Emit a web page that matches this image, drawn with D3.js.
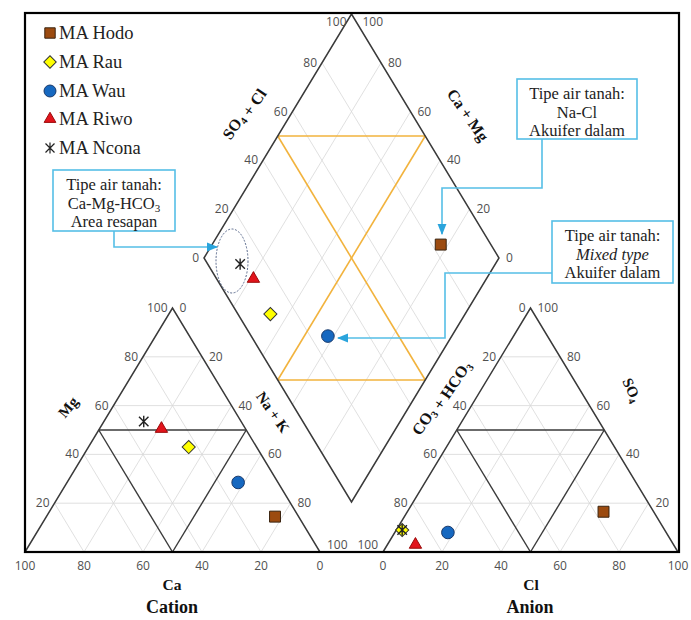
<!DOCTYPE html>
<html><head><meta charset="utf-8">
<script src="https://cdn.jsdelivr.net/npm/d3@7"></script>
<style>body{margin:0;background:#fff} svg{display:block}</style>
</head><body>
<svg id="c" width="691" height="620"></svg>
<script>
// ---- data (percent) ----
const samples = ["MA Hodo", "MA Rau", "MA Wau", "MA Riwo", "MA Ncona"];
const ca   = [8, 23, 13.5, 28.5, 33];
const mg   = [14.5, 43, 28.5, 50.5, 53.5];
const nak  = [77.5, 34, 58, 21, 13.5];
const hco3 = [17, 89, 74, 87.5, 89];
const so4  = [16.5, 9, 8, 3, 9];
const cl   = [66.5, 2, 18, 9.5, 2];
const ticks = [0, 20, 40, 60, 80, 100];
const gridLevels = [20, 40, 60, 80];

const svg = d3.select("#c");
const FONT = "'Open Sans', 'DejaVu Sans', sans-serif";
const SERIF = "'Liberation Serif', 'Times New Roman', serif";

// ---- scales ----
const catX = d3.scaleLinear().domain([0, 100]).range([25, 320]);
const anX  = d3.scaleLinear().domain([0, 100]).range([383, 678]);
const triY = d3.scaleLinear().domain([0, 100]).range([552, 308]);
const diaX = d3.scaleLinear().domain([0, 200]).range([204, 499]);
const diaY = d3.scaleLinear().domain([-100, 100]).range([14, 502]);

const catPt = (c, m, n) => [catX(n + m / 2), triY(m)];
const anPt  = (h, s, c) => [anX(c + s / 2), triY(s)];
const diaPt = (p, q) => [diaX(p + q), diaY(p - q)];

const line = d3.line();
function seg(g, a, b, stroke, w) {
  g.append("path").attr("d", line([a, b])).attr("stroke", stroke)
    .attr("stroke-width", w).attr("fill", "none");
}

const gGrid = svg.append("g");
const gMain = svg.append("g");

// ---- grids ----
const GRID = "#d8d8d8";
gridLevels.forEach(t => {
  const u = 100 - t;
  seg(gGrid, catPt(u, t, 0), catPt(0, t, u), GRID, 0.8);
  seg(gGrid, catPt(u, 0, t), catPt(0, u, t), GRID, 0.8);
  seg(gGrid, catPt(t, u, 0), catPt(t, 0, u), GRID, 0.8);
  seg(gGrid, anPt(u, t, 0), anPt(0, t, u), GRID, 0.8);
  seg(gGrid, anPt(u, 0, t), anPt(0, u, t), GRID, 0.8);
  seg(gGrid, anPt(t, u, 0), anPt(t, 0, u), GRID, 0.8);
  seg(gGrid, diaPt(t, 0), diaPt(t, 100), GRID, 0.8);
  seg(gGrid, diaPt(0, t), diaPt(100, t), GRID, 0.8);
});

// ---- orange lines in diamond ----
const OR = "#f2b33d";
seg(gMain, diaPt(0, 50), diaPt(50, 100), OR, 1.6);
seg(gMain, diaPt(50, 0), diaPt(100, 50), OR, 1.6);
seg(gMain, diaPt(0, 50), diaPt(100, 50), OR, 1.6);
seg(gMain, diaPt(50, 100), diaPt(50, 0), OR, 1.6);

// ---- outlines ----
const DK = "#3a3a3a";
function poly(g, pts) {
  g.append("path").attr("d", line(pts) + "Z").attr("fill", "none")
    .attr("stroke", DK).attr("stroke-width", 1.5);
}
poly(gMain, [catPt(100, 0, 0), catPt(0, 100, 0), catPt(0, 0, 100)]);
poly(gMain, [anPt(100, 0, 0), anPt(0, 100, 0), anPt(0, 0, 100)]);
poly(gMain, [diaPt(0, 0), diaPt(0, 100), diaPt(100, 100), diaPt(100, 0)]);
seg(gMain, catPt(50, 50, 0), catPt(0, 50, 50), DK, 1.4);
seg(gMain, catPt(50, 50, 0), catPt(50, 0, 50), DK, 1.4);
seg(gMain, catPt(0, 50, 50), catPt(50, 0, 50), DK, 1.4);
seg(gMain, anPt(50, 50, 0), anPt(0, 50, 50), DK, 1.4);
seg(gMain, anPt(50, 50, 0), anPt(50, 0, 50), DK, 1.4);
seg(gMain, anPt(0, 50, 50), anPt(50, 0, 50), DK, 1.4);

// ---- frame ----
svg.append("rect").attr("x", 25).attr("y", 13).attr("width", 654).attr("height", 539)
  .attr("fill", "none").attr("stroke", "#000").attr("stroke-width", 2.2);

// ---- tick labels ----
const gT = svg.append("g").attr("font-family", FONT).attr("font-size", 12).attr("fill", "#505050");
function lab(x, y, txt, anchor) {
  gT.append("text").attr("x", x).attr("y", y).attr("text-anchor", anchor).text(txt);
}
ticks.forEach(v => {
  const w = 100 - v;
  let p = catPt(v, 0, w); lab(p[0], 570, v, "middle");
  if (v > 0) { p = catPt(w, v, 0); lab(p[0] - 5, p[1] + 4, v, "end"); }
  p = catPt(0, w, v); lab(p[0] + 7, p[1] + 4 - (v === 100 ? 7 : 0), v, "start");
  p = anPt(w, 0, v); lab(p[0], 570, v, "middle");
  p = anPt(v, w, 0); lab(p[0] - 5, p[1] + 4 - (v === 100 ? 7 : 0), v, "end");
  if (v > 0) { p = anPt(0, v, w); lab(p[0] + 7, p[1] + 4, v, "start"); }
  p = diaPt(0, v); lab(p[0] - 5, p[1] + 4 + (v === 100 ? 8 : 0), v, "end");
  p = diaPt(w, 100); lab(p[0] + 7 + (v === 100 ? 4 : 0), p[1] + 4 + (v === 100 ? 8 : 0), v, "start");
});

// ---- axis titles ----
const gA = svg.append("g").attr("font-family", SERIF).attr("font-weight", "bold").attr("fill", "#111");
function title(x, y, rot, size, parts) {
  const t = gA.append("text").attr("transform", `translate(${x},${y}) rotate(${rot})`)
    .attr("text-anchor", "middle").attr("dy", "0.35em").attr("font-size", size);
  parts.forEach(([s, sub]) => {
    if (sub) {
      t.append("tspan").attr("font-size", size * 0.65).attr("dy", "0.3em").text(s);
      t.append("tspan").attr("dy", "-0.2em").text("");
    } else {
      t.append("tspan").text(s);
    }
  });
  return t;
}
title(243, 113, -55, 16, [["SO"], ["4", true], [" + Cl"]]);
title(468, 115, 55, 16, [["Ca + Mg"]]);
title(68, 407, -50, 15, [["Mg"]]);
title(273, 412, 55, 15, [["Na + K"]]);
title(440, 397, -56, 16, [["CO"], ["3", true], [" + HCO"], ["3", true]]);
title(632, 390, 65, 15, [["SO"], ["4", true]]);
title(172, 585, 0, 15.5, [["Ca"]]);
title(531, 585, 0, 15.5, [["Cl"]]);
title(172, 607, 0, 18, [["Cation"]]);
title(530, 607, 0, 18, [["Anion"]]);

// ---- annotations ----
const CY = "#55bfe6";
const defs = svg.append("defs");
defs.append("marker").attr("id", "arr").attr("viewBox", "0 0 10 10").attr("refX", 9).attr("refY", 5)
  .attr("markerWidth", 7).attr("markerHeight", 7).attr("orient", "auto")
  .append("path").attr("d", "M0,1 L10,5 L0,9 Z").attr("fill", "#2aa4dc");

const gN = svg.append("g");
function box(x, y, w, h, lines) {
  gN.append("rect").attr("x", x).attr("y", y).attr("width", w).attr("height", h)
    .attr("fill", "#fff").attr("stroke", CY).attr("stroke-width", 1.6);
  lines.forEach((ln, i) => {
    const t = gN.append("text").attr("x", x + w / 2).attr("y", y + 20 + i * 18.5)
      .attr("text-anchor", "middle").attr("font-family", SERIF).attr("font-size", 16.5).attr("fill", "#222");
    ln.forEach(([s, style]) => {
      const ts = t.append("tspan").text(s);
      if (style === "sub") ts.attr("font-size", 11).attr("dy", "0.3em");
      if (style === "i") ts.attr("font-style", "italic");
    });
  });
}
function conn(pts) {
  gN.append("path").attr("d", line(pts)).attr("fill", "none").attr("stroke", CY)
    .attr("stroke-width", 1.6).attr("marker-end", "url(#arr)");
}
conn([[114, 231], [114, 247], [217, 247]]);
conn([[542, 139], [542, 188], [442, 188], [442, 234]]);
conn([[552, 273], [445, 273], [445, 338], [338, 338]]);
box(53, 170, 122, 61, [[["Tipe air tanah:"]], [["Ca-Mg-HCO"], ["3", "sub"]], [["Area resapan"]]]);
box(517, 79, 120, 60, [[["Tipe air tanah:"]], [["Na-Cl"]], [["Akuifer dalam"]]]);
box(552, 221, 121, 62, [[["Tipe air tanah:"]], [["Mixed type", "i"]], [["Akuifer dalam"]]]);

gN.append("ellipse").attr("cx", 232).attr("cy", 261).attr("rx", 16).attr("ry", 32)
  .attr("fill", "none").attr("stroke", "#5a6a8c").attr("stroke-width", 1).attr("stroke-dasharray", "2,1.5");

// ---- markers ----
const asterisk = {
  draw(ctx, size) {
    const r = Math.sqrt(size) / 2;
    ctx.moveTo(-r, -r); ctx.lineTo(r, r);
    ctx.moveTo(-r, r); ctx.lineTo(r, -r);
    ctx.moveTo(0, -r * 1.2); ctx.lineTo(0, r * 1.2);
  }
};
const styles = [
  { type: d3.symbolSquare, size: 120, fill: "#9c4b10", stroke: "#3a2410", rot: 0 },
  { type: d3.symbolSquare, size: 86, fill: "#ffff00", stroke: "#333", rot: 45 },
  { type: d3.symbolCircle, size: 125, fill: "#1668c0", stroke: "#1a3a6b", rot: 0 },
  { type: d3.symbolTriangle, size: 66, fill: "#e2141c", stroke: "#9a0a0a", rot: 0 },
  { type: asterisk, size: 90, fill: "none", stroke: "#222", rot: 0 }
];
const gP = svg.append("g");
function mark(x, y, i) {
  const s = styles[i];
  gP.append("path").attr("d", d3.symbol().type(s.type).size(s.size)())
    .attr("transform", `translate(${x},${y}) rotate(${s.rot})`)
    .attr("fill", s.fill).attr("stroke", s.stroke).attr("stroke-width", i === 4 ? 1.4 : 1);
}
samples.forEach((name, i) => {
  const c = catPt(ca[i], mg[i], nak[i]);
  const a = anPt(hco3[i], so4[i], cl[i]);
  const d = diaPt(nak[i], so4[i] + cl[i]);
  mark(c[0], c[1], i);
  mark(a[0], a[1], i);
  mark(d[0], d[1], i);
});

// ---- legend ----
const legY = [33, 62, 91, 119, 148];
const gL = svg.append("g");
samples.forEach((name, i) => {
  const st = styles[i];
  gL.append("path").attr("d", d3.symbol().type(st.type).size(st.size * 0.9)())
    .attr("transform", `translate(50,${legY[i]}) rotate(${st.rot})`)
    .attr("fill", st.fill).attr("stroke", st.stroke).attr("stroke-width", i === 4 ? 1.2 : 1);
  gL.append("text").attr("x", 59).attr("y", legY[i] + 6).attr("font-family", SERIF)
    .attr("font-size", 18.5).attr("fill", "#222").text(name);
});
</script>
</body></html>
